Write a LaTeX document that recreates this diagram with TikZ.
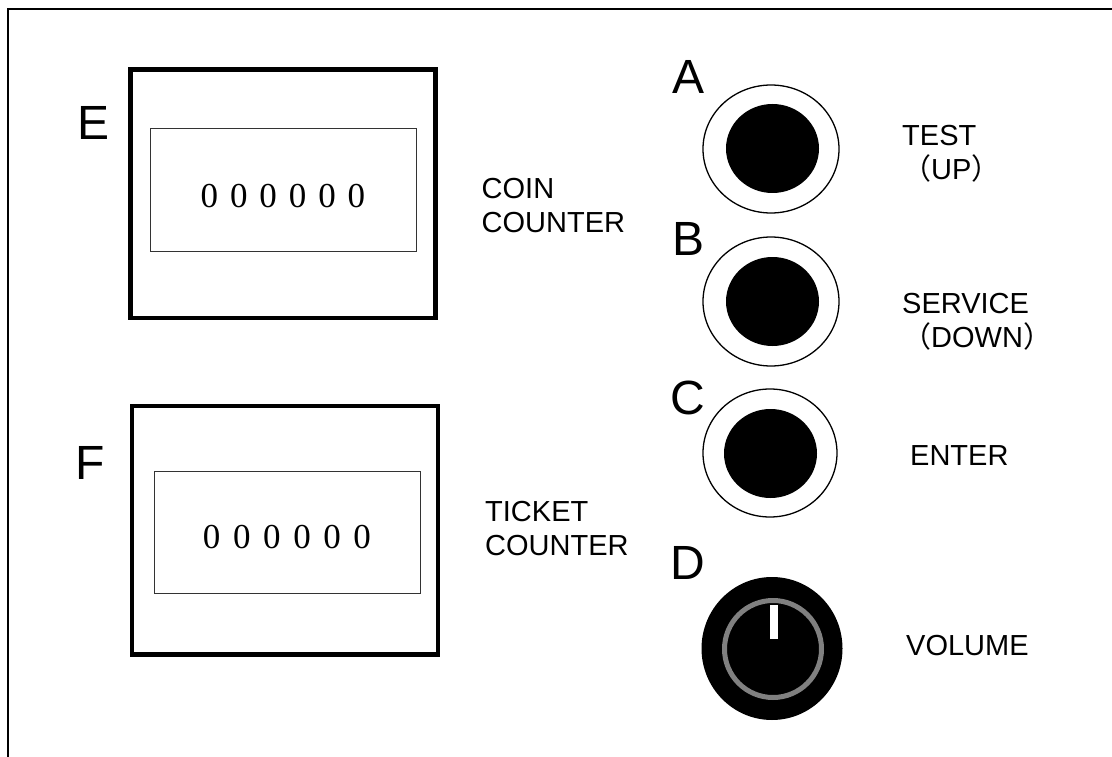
\documentclass[tikz,border=0pt]{standalone}
\usepackage{fontspec}
\setmainfont{Liberation Sans}
\newfontfamily\digitfont{Liberation Serif}
\newfontfamily\cjkfont{Noto Sans CJK JP}
\begin{document}
\begin{tikzpicture}[x=1pt,y=-1pt,
  lbl/.style={font=\fontsize{48}{48}\selectfont, inner sep=0pt},
  caption/.style={font=\fontsize{29}{34}\selectfont, inner sep=0pt, align=left, anchor=north west},
  dig/.style={font=\digitfont\fontsize{35}{35}\selectfont, inner sep=0pt},
  frameline/.style={line width=2pt},
  housing/.style={line width=4.5pt},
  window/.style={line width=1pt, draw=black!80},
  ring/.style={line width=1.3pt},
]
\useasboundingbox (0,0) rectangle (1112,757);
\fill[white] (0,0) rectangle (1112,757);
% panel frame (top and left edges)
\draw[frameline] (8,757) -- (8,9) -- (1112,9);

% ---- counter E ----
\draw[housing] (130.5,69.5) rectangle (435.5,318);
\draw[window] (150,129) rectangle (416,251);
\node[lbl] (labE) at (93.5,123) {E};
\foreach \i in {0,...,5}{
  \node[dig] (dE\i) at (209.4+29.4*\i,196.5) {0};
}
\node[caption] (coin) at (481.5,178) {COIN\\COUNTER};

% ---- counter F ----
\draw[housing] (132,406) rectangle (438,654.5);
\draw[window] (154,471) rectangle (420.5,593.5);
\node[lbl] (labF) at (90,463) {F};
\foreach \i in {0,...,5}{
  \node[dig] (dF\i) at (211.7+30.1*\i,537) {0};
}
\node[caption] (ticket) at (485,501) {TICKET\\COUNTER};

% ---- button A ----
\draw[ring] (771,149) ellipse [x radius=68, y radius=64];
\fill (772.5,148.5) ellipse [x radius=46.5, y radius=44.5];
\node[lbl] (labA) at (688.5,77) {A};
\node[caption] (test) at (902,125) {TEST\\{\cjkfont （}UP{\cjkfont ）}};

% ---- button B ----
\draw[ring] (771,301.5) ellipse [x radius=68, y radius=64.5];
\fill (772.5,301.5) ellipse [x radius=46.5, y radius=44.5];
\node[lbl] (labB) at (688.5,238.5) {B};
\node[caption] (service) at (902,293) {SERVICE\\{\cjkfont （}DOWN{\cjkfont ）}};

% ---- button C ----
\draw[ring] (770,453) ellipse [x radius=67, y radius=64];
\fill (770.5,453.5) ellipse [x radius=46.5, y radius=44.5];
\node[lbl] (labC) at (688,398) {C};
\node[caption] (enter) at (910,445) {ENTER};

% ---- knob D ----
\fill (772,648.5) ellipse [x radius=70.5, y radius=71.5];
\draw[line width=5pt, draw=black!50] (773,649) circle [radius=48.5];
\fill[white] (770,605) rectangle (778,639);
\node[lbl] (labD) at (688,563) {D};
\node[caption] (volume) at (906,635) {VOLUME};
\end{tikzpicture}
\end{document}
